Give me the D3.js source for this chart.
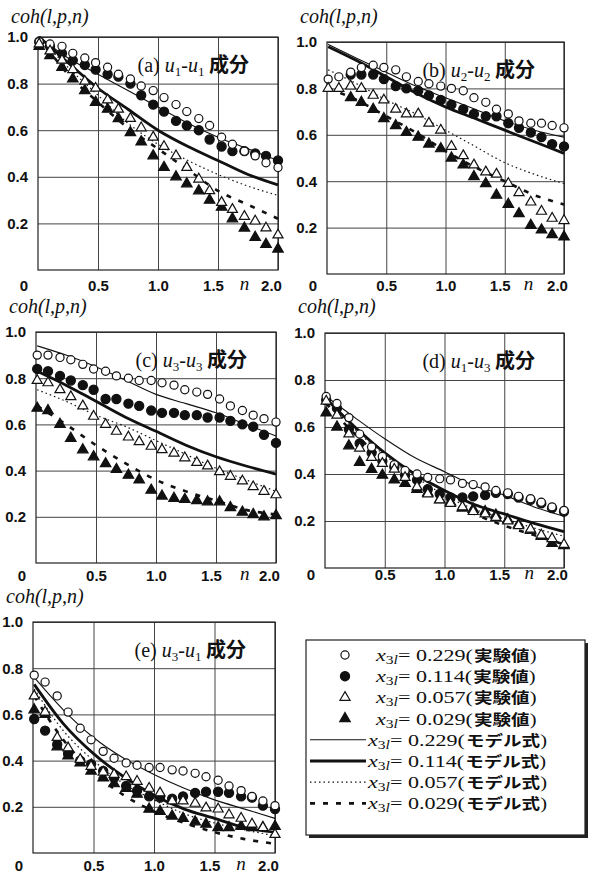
<!DOCTYPE html>
<html>
<head>
<meta charset="utf-8">
<script src="https://cdn.jsdelivr.net/npm/d3@7"></script>
<style>
    body { margin: 0; background: #fff; }
    svg text { fill: #111; }
    .tick line { stroke: #444; stroke-width: 1; }
    .tick text { font-family: "Liberation Sans", Arial, sans-serif; font-size: 15px; font-weight: bold; }
</style>
</head>
<body>
<div id="chart"></div>
<script>

// frequency n of the measured points and of the model curves
var nPts = [0.01, 0.10, 0.20, 0.29, 0.39, 0.48, 0.58, 0.67, 0.77, 0.86, 0.96, 1.05, 1.15, 1.24, 1.34, 1.43, 1.53, 1.62, 1.72, 1.81, 1.90, 2.00];
var nModel = [0.01, 0.25, 0.5, 0.75, 1.0, 1.25, 1.5, 1.75, 2.0];

var yTicks = [0.2, 0.4, 0.6, 0.8, 1.0];
var xTicks = [0.5, 1.0, 1.5, 2.0];

var x3lLabels = ["0.229", "0.114", "0.057", "0.029"];

// (a) u1-u1
var a_o229 = [0.98, 0.97, 0.96, 0.93, 0.91, 0.89, 0.87, 0.84, 0.82, 0.79, 0.77, 0.74, 0.71, 0.68, 0.65, 0.62, 0.57, 0.54, 0.51, 0.49, 0.46, 0.44];
var a_f114 = [0.98, 0.96, 0.93, 0.90, 0.88, 0.86, 0.84, 0.83, 0.80, 0.75, 0.71, 0.68, 0.64, 0.62, 0.60, 0.56, 0.53, 0.51, 0.51, 0.50, 0.49, 0.47];
var a_o057 = [0.97, 0.94, 0.90, 0.86, 0.81, 0.78, 0.73, 0.69, 0.65, 0.61, 0.57, 0.53, 0.49, 0.44, 0.39, 0.34, 0.29, 0.26, 0.23, 0.21, 0.18, 0.15];
var a_f029 = [0.96, 0.92, 0.87, 0.82, 0.77, 0.72, 0.69, 0.65, 0.59, 0.55, 0.49, 0.44, 0.40, 0.37, 0.34, 0.30, 0.27, 0.22, 0.18, 0.14, 0.11, 0.09];
var a_m229 = [1.00, 0.91, 0.84, 0.77, 0.70, 0.63, 0.57, 0.52, 0.47];
var a_m114 = [1.00, 0.89, 0.78, 0.69, 0.60, 0.53, 0.47, 0.41, 0.365];
var a_m057 = [1.00, 0.87, 0.75, 0.63, 0.54, 0.47, 0.41, 0.36, 0.32];
var a_m029 = [1.00, 0.84, 0.72, 0.61, 0.52, 0.43, 0.34, 0.28, 0.22];

// (b) u2-u2
var b_o229 = [0.84, 0.85, 0.87, 0.89, 0.90, 0.89, 0.88, 0.85, 0.83, 0.82, 0.81, 0.80, 0.79, 0.76, 0.74, 0.71, 0.69, 0.66, 0.65, 0.65, 0.64, 0.63];
var b_f114 = [null, null, 0.86, 0.86, 0.86, 0.84, 0.81, 0.80, 0.79, 0.77, 0.75, 0.73, 0.71, 0.69, 0.68, 0.68, 0.65, 0.63, 0.61, 0.59, 0.56, 0.55];
var b_o057 = [0.80, 0.80, 0.81, 0.80, 0.77, 0.75, 0.71, 0.69, 0.69, 0.65, 0.62, 0.55, 0.51, 0.47, 0.44, 0.43, 0.39, 0.35, 0.31, 0.27, 0.24, 0.23];
var b_f029 = [null, null, 0.76, 0.74, 0.71, 0.67, 0.64, 0.61, 0.59, 0.56, 0.54, 0.50, 0.47, 0.42, 0.39, 0.34, 0.30, 0.26, 0.21, 0.19, 0.17, 0.16];
var b_m229 = [0.99, 0.93, 0.87, 0.81, 0.76, 0.71, 0.66, 0.62, 0.59];
var b_m114 = [0.98, 0.92, 0.85, 0.78, 0.72, 0.67, 0.62, 0.57, 0.52];
var b_m057 = [0.88, 0.82, 0.75, 0.69, 0.62, 0.55, 0.48, 0.43, 0.39];
var b_m029 = [0.80, 0.75, 0.68, 0.61, 0.53, 0.46, 0.40, 0.34, 0.30];

// (c) u3-u3
var c_o229 = [0.90, 0.90, 0.89, 0.88, 0.86, 0.84, 0.83, 0.81, 0.80, 0.79, 0.79, 0.78, 0.77, 0.75, 0.74, 0.73, 0.71, 0.68, 0.66, 0.64, 0.625, 0.61];
var c_f114 = [0.84, 0.83, 0.81, 0.79, 0.77, 0.75, 0.71, 0.71, 0.69, 0.68, 0.66, 0.65, 0.65, 0.64, 0.64, 0.63, 0.63, 0.615, 0.60, 0.59, 0.555, 0.52];
var c_o057 = [0.79, 0.78, 0.75, 0.72, 0.68, 0.635, 0.60, 0.57, 0.545, 0.525, 0.505, 0.49, 0.475, 0.455, 0.435, 0.42, 0.395, 0.375, 0.355, 0.33, 0.31, 0.295];
var c_f029 = [0.67, 0.66, 0.60, 0.54, 0.49, 0.46, 0.43, 0.405, 0.38, 0.36, 0.315, 0.29, 0.28, 0.275, 0.27, 0.265, 0.265, 0.24, 0.22, 0.21, 0.20, 0.205];
var c_m229 = [0.94, 0.90, 0.85, 0.79, 0.73, 0.69, 0.65, 0.60, 0.55];
var c_m114 = [0.83, 0.77, 0.70, 0.63, 0.57, 0.51, 0.46, 0.42, 0.385];
var c_m057 = [0.75, 0.70, 0.64, 0.59, 0.53, 0.47, 0.41, 0.36, 0.31];
var c_m029 = [0.68, 0.60, 0.51, 0.43, 0.36, 0.31, 0.27, 0.23, 0.21];

// (d) u1-u3
var d_o229 = [0.73, 0.70, 0.64, 0.57, 0.515, 0.475, 0.44, 0.415, 0.40, 0.385, 0.38, 0.375, 0.36, 0.355, 0.345, 0.33, 0.32, 0.305, 0.295, 0.28, 0.26, 0.245];
var d_f114 = [0.715, 0.68, 0.59, 0.53, 0.49, 0.455, 0.43, 0.395, 0.375, 0.335, 0.315, 0.30, 0.30, 0.305, 0.31, 0.32, 0.315, 0.30, 0.29, 0.275, 0.255, 0.24];
var d_o057 = [0.71, 0.65, 0.57, 0.51, 0.47, 0.445, 0.42, 0.385, 0.345, 0.315, 0.29, 0.275, 0.26, 0.24, 0.23, 0.215, 0.20, 0.18, 0.165, 0.14, 0.125, 0.10];
var d_f029 = [0.66, 0.60, 0.52, 0.45, 0.42, 0.395, 0.375, 0.36, 0.335, 0.32, 0.29, 0.28, 0.255, 0.25, 0.24, 0.225, 0.205, 0.185, 0.16, 0.135, 0.105, 0.095];
var d_m229 = [0.73, 0.64, 0.55, 0.47, 0.41, 0.35, 0.31, 0.26, 0.22];
var d_m114 = [0.72, 0.60, 0.49, 0.40, 0.33, 0.27, 0.23, 0.19, 0.155];
var d_m057 = [0.71, 0.59, 0.48, 0.39, 0.31, 0.25, 0.21, 0.17, 0.135];
var d_m029 = [0.70, 0.57, 0.46, 0.37, 0.29, 0.23, 0.18, 0.14, 0.10];

// (e) u3-u1
var e_o229 = [0.77, 0.74, 0.68, 0.61, 0.54, 0.49, 0.44, 0.41, 0.39, 0.38, 0.37, 0.37, 0.36, 0.355, 0.345, 0.33, 0.315, 0.29, 0.27, 0.245, 0.225, 0.205];
var e_f114 = [0.58, 0.53, 0.47, 0.43, 0.40, 0.385, 0.355, 0.325, 0.29, 0.27, 0.245, 0.24, 0.235, 0.245, 0.26, 0.265, 0.265, 0.26, 0.245, 0.24, 0.205, 0.19];
var e_o057 = [0.68, 0.61, 0.50, 0.455, 0.405, 0.375, 0.35, 0.34, 0.33, 0.31, 0.28, 0.26, 0.225, 0.225, 0.215, 0.195, 0.19, 0.165, 0.15, 0.125, 0.11, 0.08];
var e_f029 = [0.62, 0.60, 0.46, 0.42, 0.39, 0.355, 0.325, 0.30, 0.28, 0.255, 0.19, 0.18, 0.16, 0.15, 0.135, 0.125, 0.11, 0.11, 0.115, 0.11, 0.11, 0.115];
var e_m229 = [0.76, 0.62, 0.50, 0.41, 0.34, 0.28, 0.23, 0.19, 0.15];
var e_m114 = [0.73, 0.56, 0.43, 0.33, 0.25, 0.19, 0.15, 0.11, 0.09];
var e_m057 = [0.71, 0.53, 0.40, 0.30, 0.23, 0.17, 0.13, 0.10, 0.075];
var e_m029 = [0.68, 0.49, 0.35, 0.25, 0.18, 0.13, 0.09, 0.06, 0.04];


var serif = '"Liberation Serif", "Times New Roman", serif';
var sans = '"Liberation Sans", Arial, sans-serif';
var cjk = '"Noto Sans CJK JP", sans-serif';

// marker + line styles, same order as x3lLabels
var markStyle = [
    { type: d3.symbolCircle,   size: 52, fill: "#fff" },
    { type: d3.symbolCircle,   size: 66, fill: "#111" },
    { type: d3.symbolTriangle, size: 44, fill: "#fff" },
    { type: d3.symbolTriangle, size: 48, fill: "#111" }
];
var lineStyle = [
    { width: 1.1, dash: null },
    { width: 2.8, dash: null },
    { width: 1.2, dash: "1.5,3" },
    { width: 2.6, dash: "5,8" }
];
var drawOrder = [1, 0, 3, 2];

var panels = [
    { tag: "a", sub: ["1", "1"], left: 38,  top: 37,  w: 240, h: 233, titleY: 23,  labY: 287, nAt: 1.72,
      pts: [a_o229, a_f114, a_o057, a_f029], mdl: [a_m229, a_m114, a_m057, a_m029] },
    { tag: "b", sub: ["2", "2"], left: 327, top: 42,  w: 237, h: 232, titleY: 23,  labY: 287, nAt: 1.70,
      pts: [b_o229, b_f114, b_o057, b_f029], mdl: [b_m229, b_m114, b_m057, b_m029] },
    { tag: "c", sub: ["3", "3"], left: 36,  top: 332, w: 240, h: 231, titleY: 313, labY: 577, nAt: 1.74,
      pts: [c_o229, c_f114, c_o057, c_f029], mdl: [c_m229, c_m114, c_m057, c_m029] },
    { tag: "d", sub: ["1", "3"], left: 325, top: 333, w: 239, h: 235, titleY: 313, labY: 576, nAt: 1.71,
      pts: [d_o229, d_f114, d_o057, d_f029], mdl: [d_m229, d_m114, d_m057, d_m029] },
    { tag: "e", sub: ["3", "1"], left: 33,  top: 622, w: 242, h: 231, titleY: 603, labY: 867, nAt: 1.72,
      pts: [e_o229, e_f114, e_o057, e_f029], mdl: [e_m229, e_m114, e_m057, e_m029] }
];

var svg = d3.select("#chart").append("svg")
    .attr("width", 589)
    .attr("height", 880);

svg.append("rect").attr("width", 589).attr("height", 880).attr("fill", "#fff");

panels.forEach(function(p) {
    var g = svg.append("g")
        .attr("transform", "translate(" + p.left + "," + p.top + ")");

    var x = d3.scaleLinear().domain([0, 2]).range([0, p.w]);
    var y = d3.scaleLinear().domain([0, 1]).range([p.h, 0]);

    // baseline of the x labels, relative to the bottom of the frame
    var labBase = p.labY + 4 - p.top - p.h;

    // grid + tick labels
    g.append("g")
        .call(d3.axisLeft(y).tickValues(yTicks).tickSize(-p.w).tickPadding(10).tickFormat(d3.format(".1f")))
        .call(function(s) { s.select(".domain").remove(); });

    g.append("g")
        .attr("transform", "translate(0," + p.h + ")")
        .call(d3.axisBottom(x).tickValues(xTicks).tickSize(-p.h).tickFormat(d3.format(".1f")))
        .call(function(s) {
            s.select(".domain").remove();
            s.selectAll(".tick text")
                .attr("y", labBase)
                .attr("dy", 0)
                .attr("dx", function(d) {
                    return d === 2 ? -7 : (d === 1.5 ? -5 : 0);
                });
        });

    g.append("rect")
        .attr("width", p.w)
        .attr("height", p.h)
        .attr("fill", "none")
        .attr("stroke", "#222")
        .attr("stroke-width", 1.2);

    g.append("text")
        .text("0")
        .attr("x", -14)
        .attr("y", p.h + labBase)
        .attr("text-anchor", "middle")
        .style("font-family", sans)
        .style("font-weight", "bold")
        .style("font-size", "15px");

    g.append("text")
        .text("n")
        .attr("x", x(p.nAt))
        .attr("y", p.h + labBase - 1)
        .attr("text-anchor", "middle")
        .style("font-family", serif)
        .style("font-style", "italic")
        .style("font-size", "19px");

    // y title
    svg.append("text")
        .text("coh(l,p,n)")
        .attr("x", p.left - 27)
        .attr("y", p.titleY)
        .style("font-family", serif)
        .style("font-style", "italic")
        .style("font-size", "20px");

    // panel label
    var lab = g.append("text")
        .attr("x", p.w - 29)
        .attr("y", 35)
        .attr("text-anchor", "end")
        .style("font-family", serif)
        .style("font-size", "20px");
    lab.append("tspan").text("(" + p.tag + ") ");
    lab.append("tspan").text("u").style("font-style", "italic");
    lab.append("tspan").text(p.sub[0]).attr("dy", 4).style("font-size", "13px");
    lab.append("tspan").text("-").attr("dy", -4);
    lab.append("tspan").text("u").style("font-style", "italic");
    lab.append("tspan").text(p.sub[1]).attr("dy", 4).style("font-size", "13px");
    lab.append("tspan").text(" 成分").attr("dy", -4)
        .style("font-family", cjk).style("font-weight", "bold");

    // model curves
    var line = d3.line()
        .x(function(d) { return x(d[0]); })
        .y(function(d) { return y(d[1]); })
        .curve(d3.curveMonotoneX);

    p.mdl.forEach(function(vals, i) {
        g.append("path")
            .datum(d3.zip(nModel, vals))
            .attr("d", line)
            .attr("fill", "none")
            .attr("stroke", "#111")
            .attr("stroke-width", lineStyle[i].width)
            .attr("stroke-dasharray", lineStyle[i].dash);
    });

    // measured points
    drawOrder.forEach(function(i) {
        var vals = p.pts[i];
        var sym = d3.symbol().type(markStyle[i].type).size(markStyle[i].size);
        g.selectAll(".pt" + i)
            .data(d3.zip(nPts, vals).filter(function(d) { return d[1] !== null; }))
            .enter().append("path")
            .attr("class", "pt" + i)
            .attr("d", sym)
            .attr("transform", function(d) { return "translate(" + x(d[0]) + "," + y(d[1]) + ")"; })
            .attr("fill", markStyle[i].fill)
            .attr("stroke", "#111")
            .attr("stroke-width", 1.2);
    });
});

// legend
var leg = svg.append("g");
leg.append("rect").attr("x", 309).attr("y", 643).attr("width", 279).attr("height", 195).attr("fill", "#222");
leg.append("rect").attr("x", 306).attr("y", 640).attr("width", 279).attr("height", 195)
    .attr("fill", "#fff").attr("stroke", "#222").attr("stroke-width", 1.2);

// latin part and japanese part are two texts, so the tall CJK line box
// does not run into the next row
function legendText(yc, xs, value, kind) {
    var base = yc + 6;
    var t = leg.append("text")
        .attr("transform", "translate(" + xs + "," + base + ") scale(1.3,1)")
        .style("font-family", serif)
        .style("font-size", "17px");
    t.append("tspan").text("x").style("font-style", "italic");
    t.append("tspan").text("3").attr("dy", 3).style("font-size", "12px");
    t.append("tspan").text("l").style("font-size", "12px").style("font-style", "italic");
    t.append("tspan").text("= " + value + "(").attr("dy", -3);

    var w = t.node().getComputedTextLength() * 1.3;
    var j = leg.append("text")
        .attr("transform", "translate(" + (xs + w + 1) + "," + base + ") scale(1.28,1)")
        .style("font-family", cjk)
        .style("font-weight", "bold")
        .style("font-size", "14.5px");
    j.append("tspan").text(kind);
    j.append("tspan").text(")").style("font-family", serif).style("font-weight", "normal").style("font-size", "16px");
}

x3lLabels.forEach(function(v, i) {
    var yc = 655 + i * 21.2;
    leg.append("path")
        .attr("d", d3.symbol().type(markStyle[i].type).size(markStyle[i].size)())
        .attr("transform", "translate(345," + yc + ")")
        .attr("fill", markStyle[i].fill)
        .attr("stroke", "#111")
        .attr("stroke-width", 1.2);
    legendText(yc, 376, v, "実験値");
});

x3lLabels.forEach(function(v, i) {
    var yc = 655 + (i + 4) * 21.2;
    leg.append("line")
        .attr("x1", 310).attr("x2", 366)
        .attr("y1", yc).attr("y2", yc)
        .attr("stroke", "#111")
        .attr("stroke-width", lineStyle[i].width)
        .attr("stroke-dasharray", lineStyle[i].dash);
    legendText(yc, 368, v, "モデル式");
});

</script>
</body>
</html>
